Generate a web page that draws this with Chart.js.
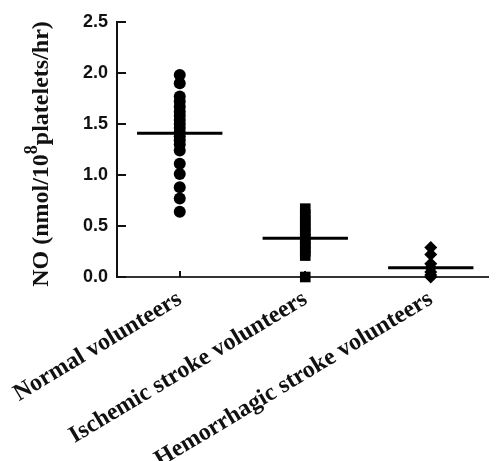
<!DOCTYPE html>
<html>
<head>
<meta charset="utf-8">
<script src="https://cdn.jsdelivr.net/npm/chart.js@4/dist/chart.umd.min.js"></script>
<style>
  body { margin: 0; background: #fff; }
  #wrap { width: 496px; height: 461px; }
</style>
</head>
<body>
<div id="wrap"><canvas id="noChart" width="496" height="461"></canvas></div>
<script>
// grupos e medidas de NO (nmol/10^8 plaquetas/hr)
const groups = ['Normal volunteers', 'Ischemic stroke volunteers', 'Hemorrhagic stroke volunteers'];
const normalVals = [1.98, 1.90, 1.77, 1.72, 1.67, 1.62, 1.58, 1.54, 1.50, 1.46, 1.42, 1.38, 1.34, 1.30, 1.24, 1.11, 1.01, 0.88, 0.77, 0.64];
const ischemicVals = [0.67, 0.61, 0.56, 0.51, 0.46, 0.42, 0.37, 0.33, 0.29, 0.25, 0.21, 0.0];
const hemorrhagicVals = [0.29, 0.22, 0.13, 0.09, 0.05, 0.02, 0.0];
const means = [1.41, 0.38, 0.09];
const yTicks = [0, 0.5, 1.0, 1.5, 2.0, 2.5];

const halfBar = 0.34; // metade da largura da linha da média

function pts(vals, pos) {
  return vals.map(v => ({ x: pos, y: v }));
}
function meanLine(i) {
  return [{ x: i + 1 - halfBar, y: means[i] }, { x: i + 1 + halfBar, y: means[i] }];
}

// marcas dos ticks para dentro + título do eixo y com expoente
const axisExtras = {
  id: 'axisExtras',
  beforeDatasetsDraw(chart) {
    const ctx = chart.ctx;
    const y = chart.scales.y, x = chart.scales.x;
    ctx.save();
    ctx.strokeStyle = '#111';
    ctx.lineWidth = 2;
    yTicks.forEach(t => {
      const py = Math.round(y.getPixelForValue(t));
      ctx.beginPath();
      ctx.moveTo(y.right, py);
      ctx.lineTo(y.right + 9, py);
      ctx.stroke();
    });
    groups.forEach((g, i) => {
      const px = Math.round(x.getPixelForValue(i + 1));
      ctx.beginPath();
      ctx.moveTo(px, x.top);
      ctx.lineTo(px, x.top - 6);
      ctx.stroke();
    });
    ctx.restore();
  },
  afterDraw(chart) {
    const ctx = chart.ctx;
    const parts = ['NO (nmol/10', '8', 'platelets/hr)'];
    const big = 'bold 24px "Liberation Serif", serif';
    const small = 'bold 18px "Liberation Serif", serif';
    ctx.save();
    ctx.font = big;
    const w0 = ctx.measureText(parts[0]).width;
    const w2 = ctx.measureText(parts[2]).width;
    ctx.font = small;
    const w1 = ctx.measureText(parts[1]).width;
    const total = w0 + w1 + w2;
    ctx.translate(48, 154);
    ctx.rotate(-Math.PI / 2);
    ctx.fillStyle = '#111';
    ctx.textBaseline = 'alphabetic';
    let cx = -total / 2;
    ctx.font = big;
    ctx.fillText(parts[0], cx, 0);
    cx += w0;
    ctx.font = small;
    ctx.fillText(parts[1], cx, -11);
    cx += w1;
    ctx.font = big;
    ctx.fillText(parts[2], cx, 0);
    ctx.restore();
  }
};

const ctx = document.getElementById('noChart').getContext('2d');
const noChart = new Chart(ctx, {
  type: 'scatter',
  data: {
    datasets: [
      { data: pts(normalVals, 1), pointStyle: 'circle', pointRadius: 6, backgroundColor: '#000', borderColor: '#000', borderWidth: 0, clip: false },
      { data: pts(ischemicVals, 2), pointStyle: 'rect', pointRadius: 7.5, backgroundColor: '#000', borderColor: '#000', borderWidth: 0, clip: false },
      { data: pts(hemorrhagicVals, 3), pointStyle: 'rectRot', pointRadius: 6.5, backgroundColor: '#000', borderColor: '#000', borderWidth: 0, clip: false },
      { data: meanLine(0), showLine: true, pointRadius: 0, borderColor: '#000', borderWidth: 3 },
      { data: meanLine(1), showLine: true, pointRadius: 0, borderColor: '#000', borderWidth: 3 },
      { data: meanLine(2), showLine: true, pointRadius: 0, borderColor: '#000', borderWidth: 3 }
    ]
  },
  options: {
    responsive: false,
    animation: false,
    layout: { padding: { top: 22, right: 0, left: 0, bottom: 0 } },
    plugins: { legend: { display: false }, tooltip: { enabled: false } },
    scales: {
      x: {
        type: 'linear',
        min: 0.5,
        max: 3.46,
        grid: { display: false, drawTicks: false },
        border: { color: '#333', width: 2 },
        afterBuildTicks: s => { s.ticks = [1, 2, 3].map(v => ({ value: v })); },
        afterFit: s => {
          s.height = 184;
          s.paddingLeft = 0;
          s.paddingRight = 0;
        },
        ticks: {
          autoSkip: false,
          minRotation: 31,
          maxRotation: 31,
          padding: 8,
          color: '#111',
          font: { family: '"Liberation Serif", serif', weight: 'bold', size: 24 },
          callback: v => groups[v - 1]
        }
      },
      y: {
        min: 0,
        max: 2.5,
        grid: { display: false, drawTicks: false },
        border: { color: '#111', width: 2 },
        afterBuildTicks: s => { s.ticks = yTicks.map(v => ({ value: v })); },
        afterFit: s => { s.width = 117; },
        ticks: {
          padding: 9,
          color: '#111',
          font: { family: '"Liberation Sans", Arial, sans-serif', weight: 'bold', size: 18 },
          callback: v => v.toFixed(1)
        }
      }
    }
  },
  plugins: [axisExtras]
});
</script>
</body>
</html>
